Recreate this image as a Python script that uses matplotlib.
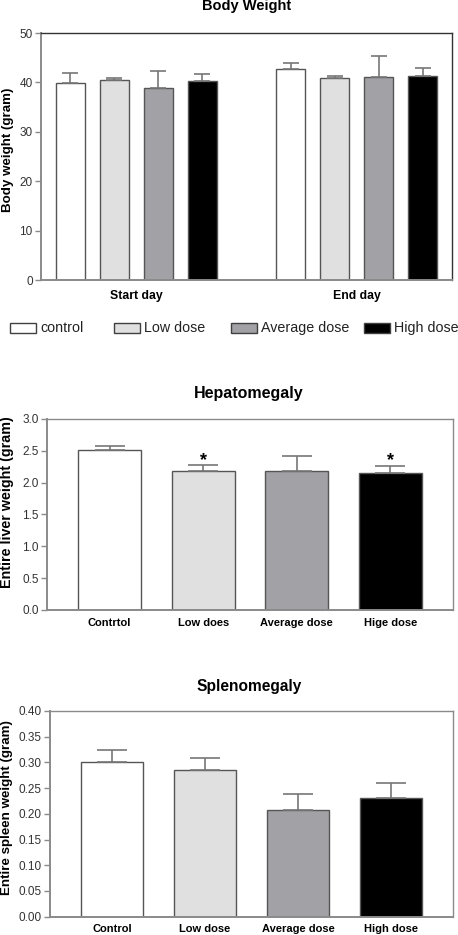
import numpy as np
import matplotlib.pyplot as plt
from matplotlib.patches import Rectangle

plt.rcParams['font.family'] = ['Liberation Sans', 'DejaVu Sans']

# groups / colours shared by all three panels
groups = ['control', 'Low dose', 'Average dose', 'High dose']
colors = ['white', '#e0e0e0', '#a2a2a6', 'black']

# body weight (gram), mean and upper error
days = ['Start day', 'End day']
bw_start = [39.9, 40.5, 38.9, 40.3]
bw_start_err = [2.1, 0.4, 3.5, 1.5]
bw_end = [42.8, 40.9, 41.1, 41.3]
bw_end_err = [1.1, 0.45, 4.2, 1.7]

# liver weight
liver_labels = ['Contrtol', 'Low does', 'Average dose', 'Hige dose']
liver = [2.51, 2.18, 2.18, 2.15]
liver_err = [0.06, 0.10, 0.24, 0.11]
liver_sig = [False, True, False, True]

# spleen weight
spleen_labels = ['Control', 'Low dose', 'Average dose', 'High dose']
spleen = [0.300, 0.285, 0.208, 0.230]
spleen_err = [0.024, 0.024, 0.030, 0.029]

EDGE = '#555555'
ERR = dict(ecolor='#777777', elinewidth=1.2, capthick=1.2)


def style(ax, frame_color, xsize, xpad):
    for s in ['left', 'bottom']:
        ax.spines[s].set_color('#8a8a8a')
        ax.spines[s].set_linewidth(1.4)
    for s in ['top', 'right']:
        ax.spines[s].set_color(frame_color)
        ax.spines[s].set_linewidth(1.0)
    ax.tick_params(axis='y', direction='out', length=4, width=1, color='#8a8a8a',
                   labelsize=8.5, labelcolor='#333333', pad=2)
    ax.tick_params(axis='x', length=0, labelsize=xsize, pad=xpad)
    for lab in ax.get_xticklabels():
        lab.set_fontweight('bold')


def ylabel(text, xc, yc, size):
    # y label placed in figure pixels (centre)
    fig.text(xc / 458, 1 - yc / 935, text, rotation=90, ha='center', va='center',
             fontsize=size, fontweight='bold')


fig = plt.figure(figsize=(4.58, 9.35), dpi=100)

# ---- Body weight ----
ax1 = fig.add_axes([0.0895, 0.7005, 0.8974, 0.2642])
x = np.arange(4)
for g, (vals, errs) in enumerate([(bw_start, bw_start_err), (bw_end, bw_end_err)]):
    ax1.bar(x + 5 * g, vals, width=0.66, color=colors, edgecolor=EDGE, linewidth=1,
            yerr=[np.zeros(4), errs], capsize=6, error_kw=ERR)
ax1.set_xlim(-0.67, 8.67)
ax1.set_ylim(0, 50)
ax1.set_yticks([0, 10, 20, 30, 40, 50])
ax1.set_xticks([1.5, 6.5])
ax1.set_xticklabels(days)
style(ax1, '#333333', 8.8, 7)
ylabel('Body weight (gram)', 8.5, 149.5, 9.6)
fig.text(246.5 / 458, 1 - 6 / 935, 'Body Weight', ha='center', va='center',
         fontsize=10.5, fontweight='bold')

# legend row
leg_x = [10, 114, 231, 364]
for lx, name, c in zip(leg_x, groups, colors):
    fig.patches.append(Rectangle((lx / 458, 1 - 332.5 / 935), 26 / 458, 9.5 / 935,
                                 transform=fig.transFigure, facecolor=c,
                                 edgecolor='#404040', linewidth=1))
    fig.text((lx + 30) / 458, 1 - 328 / 935, name, ha='left', va='center',
             fontsize=10.3, color='#222222')

# ---- Hepatomegaly ----
ax2 = fig.add_axes([0.1026, 0.3476, 0.8865, 0.2043])
x = np.arange(4)
ax2.bar(x, liver, width=0.67, color=colors, edgecolor=EDGE, linewidth=1,
        yerr=[np.zeros(4), liver_err], capsize=11, error_kw=ERR)
for i, sig in enumerate(liver_sig):
    if sig:
        ax2.text(i, 2.27, '*', ha='center', va='baseline', fontsize=13, fontweight='bold')
ax2.set_xlim(-0.67, 3.67)
ax2.set_ylim(0, 3.0)
ax2.set_yticks(np.arange(0, 3.01, 0.5))
ax2.set_yticklabels([f'{v:.1f}' for v in np.arange(0, 3.01, 0.5)])
ax2.set_xticks(x)
ax2.set_xticklabels(liver_labels)
style(ax2, '#8a8a8a', 8, 6)
ylabel('Entire liver weight (gram)', 7.5, 502.5, 10.3)
fig.text(248.5 / 458, 1 - 393 / 935, 'Hepatomegaly', ha='center', va='center',
         fontsize=11.5, fontweight='bold')

# ---- Splenomegaly ----
ax3 = fig.add_axes([0.1092, 0.0196, 0.880, 0.22])
ax3.bar(x, spleen, width=0.67, color=colors, edgecolor=EDGE, linewidth=1,
        yerr=[np.zeros(4), spleen_err], capsize=11, error_kw=ERR)
ax3.set_xlim(-0.67, 3.67)
ax3.set_ylim(0, 0.40)
ticks3 = np.arange(0, 0.401, 0.05)
ax3.set_yticks(ticks3)
ax3.set_yticklabels([f'{v:.2f}' for v in ticks3])
ax3.set_xticks(x)
ax3.set_xticklabels(spleen_labels)
style(ax3, '#8a8a8a', 8, 5)
ylabel('Entire spleen weight (gram)', 7, 807.5, 9.6)
fig.text(249 / 458, 1 - 686 / 935, 'Splenomegaly', ha='center', va='center',
         fontsize=11.2, fontweight='bold')

fig.savefig('out.png', dpi=100)
